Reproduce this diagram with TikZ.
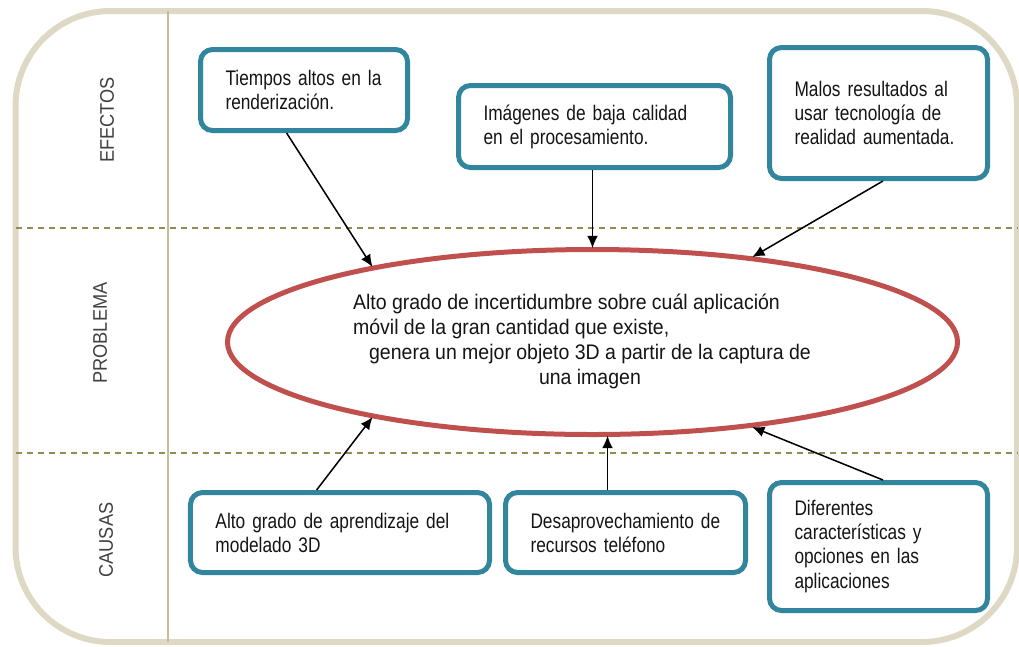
\documentclass[tikz,border=0pt]{standalone}
\usepackage{fontspec}
\setmainfont{Liberation Sans}
\newfontfamily\boxfont{Liberation Sans}[FakeStretch=0.82]
\newfontfamily\probfont{Liberation Sans}[FakeStretch=0.925]
\newcommand\boxtextfont{\boxfont\fontsize{15}{17.1}\selectfont\spaceskip=3.3pt\relax}
\newcommand\probtextfont{\probfont\fontsize{15}{17.8}\selectfont\spaceskip=3.8pt\relax}
\usetikzlibrary{arrows.meta,shapes.geometric,calc}

\definecolor{framecolor}{HTML}{DDD9C4}
\definecolor{splitcolor}{HTML}{C4BD97}
\definecolor{dashcolor}{HTML}{948A54}
\definecolor{boxcolor}{HTML}{31859C}
\definecolor{probcolor}{HTML}{C0504D}

\tikzset{
  causebox/.style={draw=boxcolor, line width=1.25mm, rounded corners=3mm, align=left,
    inner xsep=6.25mm, inner ysep=0pt, text=black!92, font=\boxtextfont},
  rowlabel/.style={rotate=90, text=black!75, font=\probfont\fontsize{14}{16}\selectfont},
  effarrow/.style={-{Latex[length=3.1mm,width=2.7mm]}, line width=0.38mm, shorten >=-0.3mm}
}

\begin{document}
\begin{tikzpicture}[x=0.25mm, y=-0.25mm]
    \useasboundingbox (0,0) rectangle (1019,646);
    % Draw the frame and the three rows.
    \draw[framecolor, line width=1.5mm, rounded corners=23.75mm] (15.5,11) rectangle (1017,642);
    \draw[splitcolor, line width=0.4mm] (168,11) -- (168,642);
    \draw[dashcolor, line width=0.35mm, dash pattern=on 1.6mm off 1.15mm] (15.5,228) -- (1017,228);
    \draw[dashcolor, line width=0.35mm, dash pattern=on 1.6mm off 1.15mm] (15.5,453) -- (1017,453);
    \node[rowlabel] (efectos) at (107,120) {EFECTOS};
    \node[rowlabel] (problema) at (100,333) {PROBLEMA};
    \node[rowlabel] (causas) at (106,540) {CAUSAS};
    % Draw the problem in the middle.
    \node[ellipse, draw=probcolor, line width=1.25mm, minimum width=182.5mm, minimum height=46.25mm,
      inner sep=0pt, text=black!92, font=\probtextfont] (prob) at (592.5,342)
      {\begin{tabular}{@{}l@{}}
        Alto grado de incertidumbre sobre cuál aplicación\\
        móvil de la gran cantidad que existe,\\
        \hspace*{11.4pt}\begin{tabular}[t]{@{}c@{}}genera un mejor objeto 3D a partir de la captura de\\ una imagen\end{tabular}
      \end{tabular}\hspace*{15pt}};
    % Draw the effects.
    \node[causebox, text width=39.25mm, minimum height=20.25mm] (efecto1) at (304,90) {Tiempos~altos~en~la\\renderización.};
    \node[causebox, text width=55.5mm, minimum height=20.5mm] (efecto2) at (594.5,126.5) {Imágenes de baja calidad\\en el procesamiento.};
    \node[causebox, text width=42mm, minimum height=32.75mm] (efecto3) at (878.5,113) {Malos resultados al\\usar tecnología de\\realidad aumentada.};
    % Draw the causes.
    \node[causebox, text width=62.25mm, minimum height=20mm] (causa1) at (340,532.5) {Alto grado de aprendizaje del\\modelado 3D};
    \node[causebox, text width=47.5mm, minimum height=20mm] (causa2) at (625.5,532.5) {Desaprovechamiento~de\\recursos teléfono};
    \node[causebox, text width=42mm, minimum height=32mm] (causa3) at (878.5,546.5) {Diferentes\\características y\\opciones en las\\aplicaciones};
    % Draw the arrows from the effects and the causes to the problem.
    \draw[effarrow] ($(efecto1.south west)!0.418!(efecto1.south east)$) -- (prob.161);
    \draw[effarrow] (efecto2.south -| prob.north) -- (prob.north);
    \draw[effarrow] ($(efecto3.south west)!0.52!(efecto3.south east)$) -- (prob.28);
    \draw[effarrow] ($(causa1.north west)!0.423!(causa1.north east)$) -- (prob.199.5);
    \draw[effarrow] (causa2.north -| prob.-81.5) -- (prob.-81.5);
    \draw[effarrow] ($(causa3.north west)!0.52!(causa3.north east)$) -- (prob.-28);
\end{tikzpicture}
\end{document}
